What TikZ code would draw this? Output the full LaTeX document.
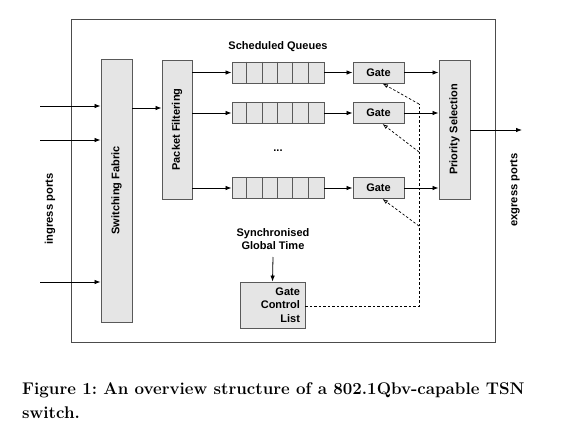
\documentclass[tikz,border=0pt]{standalone}
\usepackage{fontspec}
\setsansfont{Liberation Sans}
\usetikzlibrary{arrows.meta,calc}
\tikzset{
  box/.style={draw=black!65, fill=black!10, line width=0.9pt, inner sep=0pt},
  lbl/.style={font=\sffamily\bfseries\fontsize{11}{13.5}\selectfont},
  port/.style={font=\sffamily\bfseries\fontsize{11.2}{14}\selectfont, rotate=90},
  arr/.style={-{Latex[length=6pt,width=4.5pt]}, line width=0.8pt},
  darr/.style={dashed, line width=0.7pt, dash pattern=on 2.5pt off 2pt, -{Latex[open,length=5.5pt,width=4pt]}},
  dline/.style={dashed, line width=0.7pt, dash pattern=on 2.5pt off 2pt},
  queue/.style={box, minimum width=92pt, minimum height=21pt},
  gate/.style={box, lbl, minimum width=51pt, minimum height=21pt},
  captext/.style={anchor=base west, inner sep=0pt, font=\bfseries\fontsize{16.9}{20}\selectfont},
}
\begin{document}
\frenchspacing
\begin{tikzpicture}[x=1pt,y=-1pt]
\useasboundingbox (0,0) rectangle (571,434);
% outer frame
\node[draw=black!70, line width=1pt, minimum width=424pt, minimum height=323pt, inner sep=0pt] (frame) at (283,180.5) {};
% main blocks
\node[box, minimum width=31pt, minimum height=263pt] (sf) at (116.5,190.5) {};
\node[lbl, rotate=90] (sft) at (116.5,190.5) {Switching Fabric};
\node[box, minimum width=30pt, minimum height=139pt] (pf) at (177,129.5) {};
\node[lbl, rotate=90] (pft) at (177,129.5) {Packet Filtering};
\node[box, minimum width=31pt, minimum height=139pt] (ps) at (454.5,129.5) {};
\node[lbl, rotate=90] (pst) at (454.5,129.5) {Priority Selection};
% queues
\node[lbl] (sq) at (278,47) {Scheduled Queues};
\foreach \n/\yy in {1/72.5,2/113,3/188}{
  \node[queue] (q\n) at (278,\yy) {};
  \foreach \k in {1,...,5}{
    \draw[black!65, line width=0.9pt] ($(q\n.north west)+(\k*15.333,0)$) -- ($(q\n.south west)+(\k*15.333,0)$);
  }
  \node[gate] (g\n) at (378.5,\yy) {Gate};
  \draw[arr] (pf.east |- q\n.west) -- (q\n.west);
  \draw[arr] (q\n.east) -- (g\n.west);
  \draw[arr] (g\n.east) -- (ps.west |- g\n.east);
}
\node[lbl] (dots) at (278,151) {...};
% ingress
\coordinate (i1) at (40,106);
\coordinate (i2) at (40,140);
\coordinate (i3) at (40,282);
\foreach \n in {1,2,3}{ \draw[arr] (i\n) -- (i\n -| sf.west); }
\coordinate (sfo) at (132,108);
\draw[arr] (sfo) -- (sfo -| pf.west);
\node[port] (ing) at (50,209) {ingress ports};
% egress
\coordinate (eg) at (522,130);
\draw[arr] (ps.east |- eg) -- (eg);
\node[port] (egt) at (515,190) {exgress ports};
% GCL
\node[lbl, align=center] (sync) at (273,239) {Synchronised\\Global Time};
\node[box, minimum width=65pt, minimum height=46pt] (gcl) at (272.5,305) {};
\node[lbl, align=right, anchor=east] (gclt) at ($(gcl.east)+(-2,0)$) {Gate\\Control\\List};
\coordinate (st) at (273,257);
\draw[arr] (st) -- (gcl.north);
% dashed control lines
\coordinate (d1) at (419,104);
\coordinate (d2) at (419,152);
\coordinate (d3) at (419,226);
\coordinate (dc) at (419,306);
\draw[dline] (gcl.east |- dc) -- (dc) -- (d1);
\foreach \n in {1,2,3}{ \draw[darr] (d\n) -- ([xshift=4pt]g\n.south); }
% caption
\node[captext] (cap1) at (22,394) {Figure 1: An overview structure of a 802.1Qbv-capable TSN};
\node[captext] (cap2) at (22,418) {switch.};
\end{tikzpicture}
\end{document}
